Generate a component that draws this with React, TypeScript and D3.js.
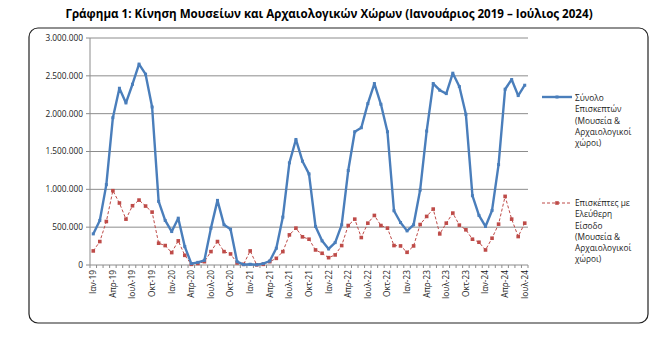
import React from "react";
import * as d3 from "d3";

const months = ["Ιαν", "Φεβ", "Μαρ", "Απρ", "Μαϊ", "Ιουν", "Ιουλ", "Αυγ", "Σεπ", "Οκτ", "Νοε", "Δεκ"];
const years = [19, 20, 21, 22, 23, 24];
const categories: string[] = [];
years.forEach((y) => months.forEach((m) => categories.push(`${m}-${y}`)));
categories.splice(67);

const totalVisitors = [
  411000, 589000, 1062000, 1947000, 2336000, 2142000, 2389000, 2655000, 2522000, 2088000, 841000, 589000,
  442000, 619000, 243000, 18000, 35000, 62000, 487000, 854000, 531000, 473000, 44000, 5000,
  10000, 3000, 18000, 53000, 221000, 633000, 1350000, 1659000, 1372000, 1204000, 509000, 319000,
  212000, 296000, 531000, 1248000, 1761000, 1814000, 2133000, 2398000, 2124000, 1761000, 717000, 562000,
  451000, 531000, 990000, 1770000, 2398000, 2310000, 2265000, 2535000, 2358000, 1991000, 916000, 655000,
  509000, 721000, 1327000, 2323000, 2451000, 2239000, 2376000,
];

const freeVisitors = [
  186000, 310000, 575000, 982000, 819000, 606000, 783000, 858000, 779000, 699000, 288000, 257000,
  164000, 319000, 128000, 9000, 20000, 44000, 177000, 310000, 177000, 146000, 27000, 9000,
  186000, 2000, 9000, 44000, 88000, 177000, 398000, 487000, 372000, 341000, 199000, 155000,
  97000, 133000, 257000, 522000, 606000, 363000, 553000, 655000, 522000, 487000, 257000, 252000,
  168000, 252000, 535000, 642000, 739000, 411000, 553000, 686000, 527000, 465000, 341000, 301000,
  199000, 354000, 540000, 907000, 606000, 376000, 553000,
];

const yTicks = [0, 500000, 1000000, 1500000, 2000000, 2500000, 3000000];
const legend1 = ["Σύνολο", "Επισκεπτών", "(Μουσεία &", "Αρχαιολογικοί", "χώροι)"];
const legend2 = ["Επισκέπτες με", "Ελεύθερη", "Είσοδο", "(Μουσεία &", "Αρχαιολογικοί", "χώροι)"];
const title = "Γράφημα 1: Κίνηση Μουσείων και Αρχαιολογικών Χώρων (Ιανουάριος 2019 – Ιούλιος 2024)";

const W = 660, H = 349;
const plotL = 90, plotR = 528, plotT = 38, plotB = 265;
const FONT = "'Open Sans', 'Noto Sans', sans-serif";
const BLUE = "#4A7EBB";
const RED = "#BE4B48";

function fmt(v: number) {
  return v === 0 ? "0" : d3.format(",")(v).replace(/,/g, ".");
}

export default function App() {
  const x = d3.scaleBand<number>().domain(d3.range(categories.length)).range([plotL, plotR]);
  const cx = (i: number) => (x(i) as number) + x.bandwidth() / 2;
  const y = d3.scaleLinear().domain([0, 3000000]).range([plotB, plotT]);
  const line = d3.line<number>().x((_, i) => cx(i)).y((d) => y(d));

  return (
    <svg width={W} height={H} style={{ position: "absolute", left: 0, top: 0, background: "#fff" }} fontFamily={FONT}>
      <rect x={0} y={0} width={W} height={H} fill="#fff" />
      <text x={329} y={18} textAnchor="middle" fontSize={11.6} fontWeight="bold" fill="#000">{title}</text>
      <rect x={29} y={28} width={619} height={295} rx={9} ry={9} fill="none" stroke="#222" strokeWidth={1.2} />

      {yTicks.map((t) => (
        <g key={t}>
          {t > 0 && <line x1={plotL} x2={plotR} y1={y(t)} y2={y(t)} stroke="#8c8c8c" strokeWidth={1} />}
          <line x1={plotL - 4} x2={plotL} y1={y(t)} y2={y(t)} stroke="#8c8c8c" />
          <text x={83} y={y(t)} dy="0.35em" textAnchor="end" fontSize={8.3} fill="#222">{fmt(t)}</text>
        </g>
      ))}
      <line x1={plotL} x2={plotL} y1={plotT} y2={plotB} stroke="#8c8c8c" />
      <line x1={plotL} x2={plotR} y1={plotB} y2={plotB} stroke="#8c8c8c" />
      {d3.range(categories.length + 1).map((i) => {
        const xx = plotL + i * x.step();
        return <line key={i} x1={xx} x2={xx} y1={plotB} y2={plotB + 3} stroke="#8c8c8c" />;
      })}
      {categories.map((c, i) =>
        i % 3 === 0 ? (
          <text key={c} transform={`translate(${cx(i)},${plotB + 5}) rotate(-90)`} textAnchor="end" dy="0.35em" fontSize={8.3} fill="#222">{c}</text>
        ) : null
      )}

      <path d={line(freeVisitors) || ""} fill="none" stroke={RED} strokeWidth={1} strokeDasharray="3,2" />
      {freeVisitors.map((v, i) => (
        <rect key={i} x={cx(i) - 1.8} y={y(v) - 1.8} width={3.6} height={3.6} fill={RED} />
      ))}
      <path d={line(totalVisitors) || ""} fill="none" stroke={BLUE} strokeWidth={2.4} strokeLinejoin="round" />
      {totalVisitors.map((v, i) => (
        <rect key={i} x={cx(i) - 1.5} y={y(v) - 1.5} width={3} height={3} fill={BLUE} />
      ))}

      <line x1={542} x2={572} y1={97} y2={97} stroke={BLUE} strokeWidth={2.4} />
      <rect x={555.5} y={95.5} width={3} height={3} fill={BLUE} />
      {legend1.map((s, i) => (
        <text key={i} x={575} y={98 + i * 11.3} dy="0.35em" fontSize={8.3} fill="#222">{s}</text>
      ))}
      <line x1={542} x2={572} y1={203} y2={203} stroke={RED} strokeWidth={1} strokeDasharray="3,2" />
      <rect x={555.2} y={201.2} width={3.6} height={3.6} fill={RED} />
      {legend2.map((s, i) => (
        <text key={i} x={575} y={203 + i * 11.3} dy="0.35em" fontSize={8.3} fill="#222">{s}</text>
      ))}
    </svg>
  );
}
